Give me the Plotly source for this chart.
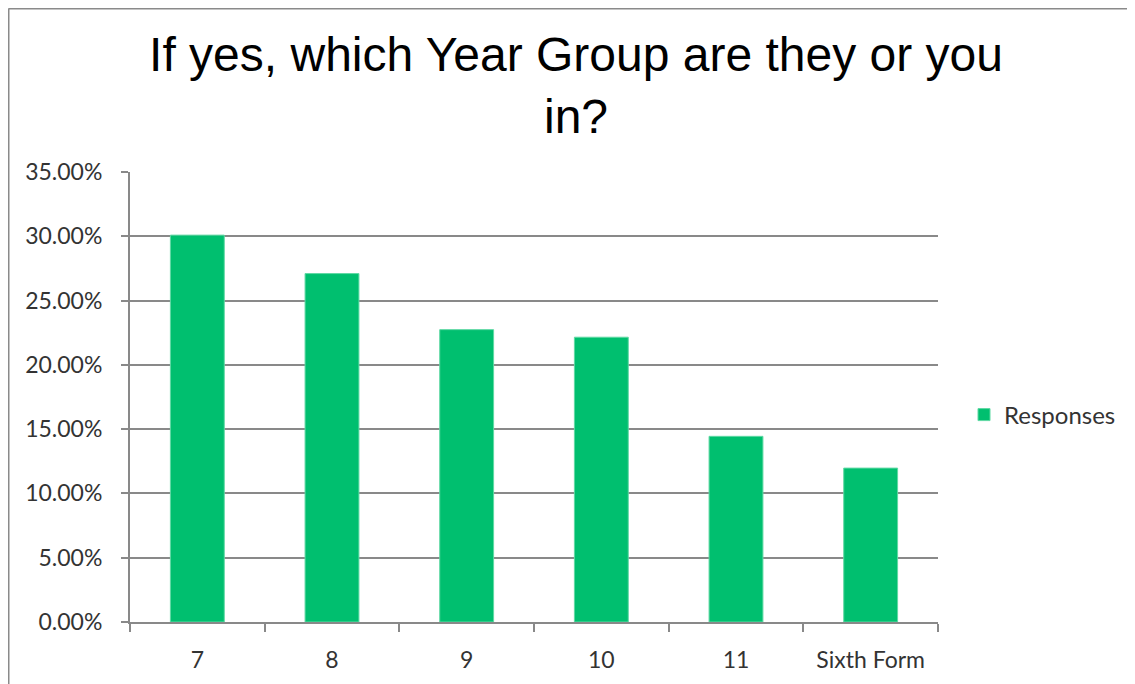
import plotly.graph_objects as go

categories = ["7", "8", "9", "10", "11", "Sixth Form"]
responses = [30.09, 27.10, 22.74, 22.15, 14.44, 11.97]
y_ticks = [0, 5, 10, 15, 20, 25, 30, 35]
y_tick_labels = ["0.00%", "5.00%", "10.00%", "15.00%", "20.00%", "25.00%", "30.00%", "35.00%"]

# page body has an 8px margin, so the figure itself starts at (8, 8)
W, H = 1127, 676
L, R, T, B = 122, 197, 164, 62
pw, ph = W - L - R, H - T - B

fig = go.Figure()
fig.add_trace(go.Bar(
    x=categories, y=responses, name="Responses",
    marker=dict(color="#00BF6F", line=dict(color="#5fd9a4", width=1)),
))

grid = "#898989"
fig.update_layout(
    width=W, height=H,
    margin=dict(l=L, r=R, t=T, b=B, autoexpand=False),
    paper_bgcolor="white", plot_bgcolor="white",
    bargap=0.6,
    showlegend=True,
    title=dict(
        text="If yes, which Year Group are they or you<br>in?",
        x=568 / W, xanchor="center", xref="container",
        y=1 - 63 / H, yanchor="top", yref="container",
        font=dict(family="Liberation Sans, Arial, sans-serif", size=48, color="black"),
    ),
    legend=dict(
        x=(956 - L) / pw, xanchor="left", y=(H - B - 407) / ph, yanchor="middle",
        font=dict(family="Lato, sans-serif", size=24, color="#333333"),
        bgcolor="rgba(0,0,0,0)",
    ),
    font=dict(family="Lato, sans-serif", size=23, color="#333333"),
)
fig.update_xaxes(
    showline=True, linecolor=grid, linewidth=2,
    ticks="outside", tickson="boundaries", ticklen=8, tickcolor=grid, tickwidth=2,
    showgrid=False, ticklabelstandoff=16,
    tickfont=dict(family="Lato, sans-serif", size=23, color="#333333"),
)
fig.update_yaxes(
    range=[0, 35], tickvals=y_ticks, ticktext=y_tick_labels,
    showline=True, linecolor=grid, linewidth=2,
    ticks="outside", ticklen=7, tickcolor=grid, tickwidth=2,
    showgrid=True, gridcolor=grid, gridwidth=2, zeroline=False,
    ticklabelstandoff=14,
    tickfont=dict(family="Lato, sans-serif", size=23, color="#333333"),
)

# outer chart border (top and left edges visible)
bx0 = (0.5 - L) / pw
by1 = (H - B - 0.5) / ph
fig.add_shape(type="line", xref="paper", yref="paper", x0=bx0, x1=(W + 5 - L) / pw, y0=by1, y1=by1,
              line=dict(color="#8a8a8a", width=2))
fig.add_shape(type="line", xref="paper", yref="paper", x0=bx0, x1=bx0, y0=by1, y1=-(B + 5) / ph,
              line=dict(color="#8a8a8a", width=2))

fig.write_html("out.html")
